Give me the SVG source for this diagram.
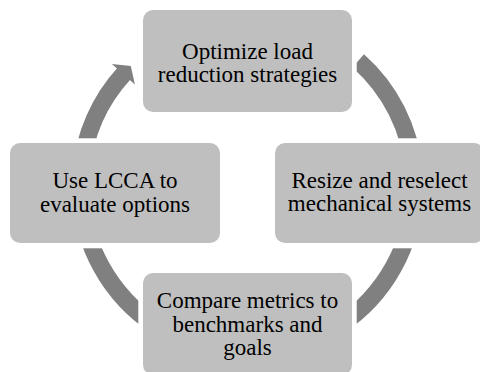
<svg xmlns="http://www.w3.org/2000/svg" width="480" height="372" viewBox="0 0 480 372">
<style>
.box{fill:#bfbfbf;}
.lbl{font-family:"Liberation Serif","Times New Roman",serif;font-size:23px;fill:#000;text-anchor:middle;}
.arc{fill:none;stroke:#808080;stroke-width:17.5;stroke-linecap:butt;}
.head{fill:#808080;}
</style>
<defs>
<mask id="gaps" maskUnits="userSpaceOnUse" x="0" y="0" width="480" height="372">
<rect x="0" y="0" width="480" height="372" fill="#fff"/>
<rect x="138.3" y="0" width="218.4" height="117" fill="#000"/>
<rect x="270.3" y="138.3" width="209.7" height="110" fill="#000"/>
<rect x="138.3" y="268.3" width="218.4" height="103.7" fill="#000"/>
<rect x="0" y="138.3" width="224.7" height="110" fill="#000"/>
</mask>
</defs>
<g id="connectors" mask="url(#gaps)">
<path class="arc" d="M358.2,60.9 A167,167 0 0,1 413.9,171.4"/>
<path class="arc" d="M413.9,200.6 A167,167 0 0,1 331,330.6"/>
<path class="arc" d="M164,330.6 A167,167 0 0,1 81.1,200.6"/>
<path class="arc" d="M81.1,171.4 A167,167 0 0,1 124.4,73.2"/>
<polygon class="head" points="111.9,63.9 130.8,66.1 134.9,84.6"/>
</g>
<g id="node-top">
<rect class="box" x="143" y="10" width="209" height="102" rx="10"/>
<text class="lbl" x="247.5" y="58.5">Optimize load</text>
<text class="lbl" x="247.5" y="81.8">reduction strategies</text>
</g>
<g id="node-right">
<rect class="box" x="275" y="143" width="209" height="100" rx="10"/>
<text class="lbl" x="379.5" y="187.5">Resize and reselect</text>
<text class="lbl" x="379.5" y="211">mechanical systems</text>
</g>
<g id="node-bottom">
<rect class="box" x="143" y="273" width="209" height="102" rx="10"/>
<text class="lbl" x="247.5" y="308.3">Compare metrics to</text>
<text class="lbl" x="247.5" y="331.7">benchmarks and</text>
<text class="lbl" x="247.5" y="355">goals</text>
</g>
<g id="node-left">
<rect class="box" x="10" y="143" width="210" height="100" rx="10"/>
<text class="lbl" x="115" y="188.3">Use LCCA to</text>
<text class="lbl" x="115" y="211.7">evaluate options</text>
</g>
</svg>
